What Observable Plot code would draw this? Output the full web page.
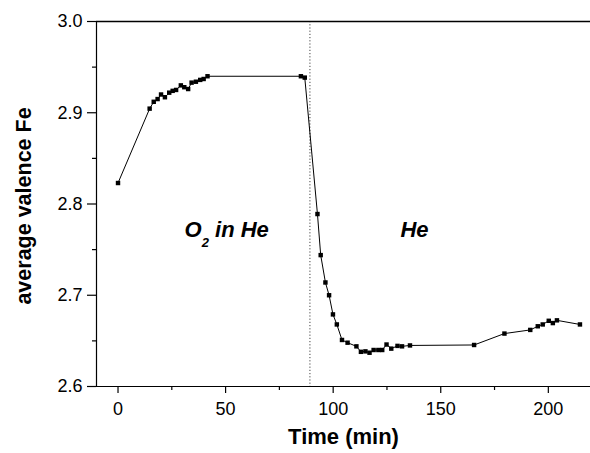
<!DOCTYPE html>
<html>
<head>
<meta charset="utf-8">
<script src="https://cdn.jsdelivr.net/npm/d3@7"></script>
<script src="https://cdn.jsdelivr.net/npm/@observablehq/plot@0.6"></script>
<style>
  html, body { margin: 0; padding: 0; background: white; }
  #chart svg { display: block; }
</style>
</head>
<body>
<div id="chart"></div>
<script>
const time = [0, 14.7, 16.6, 18.4, 20, 21.8, 23.8, 25.4, 27, 29.2, 30.8, 32.6, 34.2, 36.2, 38.2, 39.8, 41.6,
  85, 86.8, 92.7, 94.2, 96.4, 98.1, 99.9, 101.7, 104.1, 106.7, 110.8, 112.9, 115, 116.9, 118.8, 121, 122.8,
  124.8, 127, 129.9, 132, 135.7, 165.5, 179.6, 191.6, 195.1, 197.4, 200.2, 202.1, 204, 214.7];
const valence = [2.823, 2.9045, 2.912, 2.915, 2.920, 2.917, 2.922, 2.924, 2.925, 2.930, 2.928, 2.926, 2.933, 2.934, 2.936, 2.937, 2.940,
  2.940, 2.9385, 2.789, 2.744, 2.714, 2.700, 2.679, 2.668, 2.651, 2.648, 2.644, 2.638, 2.6385, 2.637, 2.640, 2.640, 2.640,
  2.646, 2.6415, 2.6445, 2.644, 2.645, 2.6455, 2.658, 2.662, 2.666, 2.668, 2.672, 2.6695, 2.6725, 2.668];
const xTicks = [0, 50, 100, 150, 200];
const xMinor = [25, 75, 125, 175];
const yTicks = [2.6, 2.7, 2.8, 2.9, 3.0];
const yMinor = [2.65, 2.75, 2.85, 2.95];
const switchTime = [89.2];
const labelText = ["O2 in He", "He"];
const labelTime = [50.5, 137.8];
const labelValue = [2.772, 2.772];

const data = time.map((t, i) => ({time: t, valence: valence[i]}));
const labels = labelText.map((s, i) => ({text: s, time: labelTime[i], valence: labelValue[i]}));

const font = "Liberation Sans, Arial, Helvetica, sans-serif";

const chart = Plot.plot({
  width: 590,
  height: 453,
  marginLeft: 96,
  marginRight: 0,
  marginTop: 21,
  marginBottom: 67,
  style: {fontFamily: font, color: "black", background: "white", overflow: "visible"},
  x: {domain: [-10, 219.6]},
  y: {domain: [2.6, 3.0]},
  marks: [
    Plot.ruleX(switchTime, {stroke: "#444", strokeWidth: 1, strokeDasharray: "1.2,2"}),
    Plot.ruleY([3.0], {stroke: "black", strokeWidth: 1.4}),
    Plot.ruleY([2.6], {stroke: "black", strokeWidth: 1.2}),
    Plot.ruleX([-10], {stroke: "black", strokeWidth: 1.2}),
    Plot.axisX({ticks: xTicks, tickSize: 7, tickPadding: 9, fontSize: 18, label: null, strokeWidth: 1.2}),
    Plot.axisX({ticks: xMinor, tickSize: 4, text: null, label: null, strokeWidth: 1.2}),
    Plot.axisY({ticks: yTicks, tickFormat: d3.format(".1f"), tickSize: 9, tickPadding: 5, fontSize: 18, label: null, strokeWidth: 1.2}),
    Plot.axisY({ticks: yMinor, tickSize: 4, text: null, label: null, strokeWidth: 1.2}),
    Plot.line(data, {x: "time", y: "valence", stroke: "black", strokeWidth: 1}),
    Plot.dot(data, {x: "time", y: "valence", symbol: "square", r: 2.5, fill: "black", stroke: "none"}),
    Plot.text(labels, {x: "time", y: "valence", text: "text", fontSize: 22, fontWeight: "bold", fontStyle: "italic", textAnchor: "middle", fill: "black"}),
    Plot.text(["average valence Fe"], {frameAnchor: "left", textAnchor: "middle", dx: -72, dy: 2, rotate: -90, fontSize: 21.5, fontWeight: "bold", fill: "black"}),
    Plot.text(["Time (min)"], {frameAnchor: "bottom", textAnchor: "middle", dy: 57, fontSize: 22, fontWeight: "bold", fill: "black"})
  ]
});

// subscript for O2
d3.select(chart).selectAll("text").each(function() {
  if (this.textContent === "O2 in He") {
    const t = d3.select(this);
    t.text(null);
    t.append("tspan").text("O");
    t.append("tspan").attr("font-size", 13).attr("dy", 10).text("2");
    t.append("tspan").attr("dy", -10).text(" in He");
  }
});

document.getElementById("chart").appendChild(chart);
</script>
</body>
</html>
